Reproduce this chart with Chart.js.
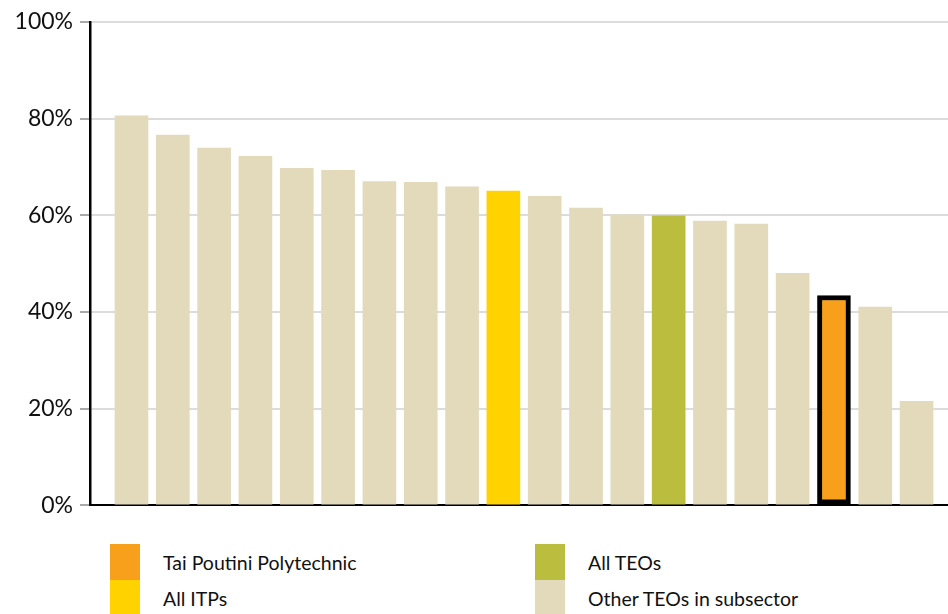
<!DOCTYPE html>
<html>
<head>
<meta charset="utf-8">
<script src="https://cdn.jsdelivr.net/npm/chart.js@4/dist/chart.umd.min.js"></script>
<style>
  body { margin: 0; background: #fff; font-family: Lato, sans-serif; }
  #wrap { position: relative; width: 948px; height: 614px; overflow: hidden; }
  #chartBox { position: absolute; left: 0; top: 0; width: 948px; height: 526px; }
  .leg { position: absolute; display: flex; align-items: center; font-size: 19.5px; color: #111; }
  .leg span.sw { width: 30px; height: 36px; margin-right: 23px; }
</style>
</head>
<body>
<div id="wrap">
  <div id="chartBox"><canvas id="barChart"></canvas></div>
  <div id="legend"></div>
</div>
<script>
// share of each TEO, sorted high to low
const teoValues = [80.6, 76.6, 73.9, 72.2, 69.7, 69.3, 67.0, 66.8, 65.9, 65.0,
                   63.9, 61.5, 60.1, 59.9, 58.8, 58.2, 48.0, 43.4, 41.0, 21.5];
// which group each bar belongs to
const teoGroups = ['other', 'other', 'other', 'other', 'other', 'other', 'other', 'other', 'other', 'itp',
                   'other', 'other', 'other', 'all', 'other', 'other', 'other', 'tpp', 'other', 'other'];
const yTicks = [0, 20, 40, 60, 80, 100];
const legendNames = {
  tpp: 'Tai Poutini Polytechnic',
  all: 'All TEOs',
  itp: 'All ITPs',
  other: 'Other TEOs in subsector'
};

const groupColors = {
  other: '#e2dabb',
  itp: '#ffd200',
  all: '#bbbd3f',
  tpp: '#f8a01b'
};

// legend boxes drawn as html under the chart
const legendSpots = [
  { key: 'tpp', left: 110, top: 544 },
  { key: 'all', left: 535, top: 544 },
  { key: 'itp', left: 110, top: 580 },
  { key: 'other', left: 535, top: 580 }
];
const legendEl = document.getElementById('legend');
legendSpots.forEach(s => {
  const d = document.createElement('div');
  d.className = 'leg';
  d.style.left = s.left + 'px';
  d.style.top = s.top + 'px';
  d.innerHTML = `<span class="sw" style="background:${groupColors[s.key]}"></span>${legendNames[s.key]}`;
  legendEl.appendChild(d);
});

const ctx = document.getElementById('barChart').getContext('2d');
new Chart(ctx, {
  type: 'bar',
  data: {
    datasets: [{
      data: teoValues.map((v, i) => ({ x: i, y: v })),
      backgroundColor: teoGroups.map(g => groupColors[g]),
      borderColor: teoGroups.map(g => g === 'tpp' ? '#000' : groupColors[g]),
      borderWidth: teoGroups.map(g => g === 'tpp' ? 5 : 0),
      borderSkipped: false,
      barThickness: 33
    }]
  },
  options: {
    responsive: true,
    maintainAspectRatio: false,
    animation: false,
    layout: { padding: { top: 22, right: 0, bottom: 0, left: 0 } },
    plugins: { legend: { display: false }, tooltip: { enabled: false } },
    scales: {
      x: {
        type: 'linear',
        offset: false,
        min: -1.004,
        max: 19.76,
        ticks: { display: false },
        grid: { display: false, drawTicks: false },
        border: { display: true, color: '#000', width: 2 }
      },
      y: {
        min: 0,
        max: 100,
        afterFit: s => { s.width = 90; },
        afterBuildTicks: s => { s.ticks = yTicks.map(v => ({ value: v })); },
        ticks: {
          callback: v => v + '%',
          color: '#111',
          padding: 7,
          font: { family: 'Lato', size: 23 }
        },
        grid: {
          color: '#dcdcdc',
          lineWidth: 2,
          tickLength: 10,
          tickColor: '#555',
          tickWidth: 1
        },
        border: { display: true, color: '#000', width: 2.5 }
      }
    }
  }
});
</script>
</body>
</html>
